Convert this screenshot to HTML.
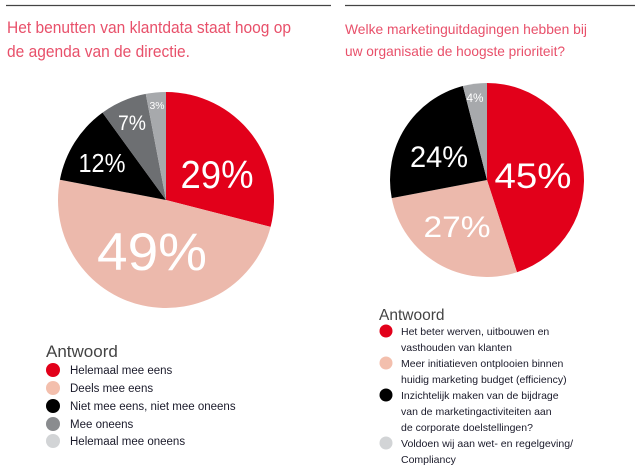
<!DOCTYPE html>
<html><head><meta charset="utf-8"><style>
html,body{margin:0;padding:0;background:#fff;width:643px;height:475px;overflow:hidden}
svg{display:block}
.t{font-family:"Liberation Sans",sans-serif}
</style></head><body>
<svg width="643" height="475" viewBox="0 0 643 475" class="t">
<line x1="6" y1="5.5" x2="331" y2="5.5" stroke="#444" stroke-width="1.3"/>
<line x1="345" y1="5.5" x2="635" y2="5.5" stroke="#444" stroke-width="1.3"/>
<g fill="#e8506a" font-size="16.5">
<text x="7" y="33" textLength="284" lengthAdjust="spacingAndGlyphs">Het benutten van klantdata staat hoog op</text>
<text x="7" y="57" textLength="183" lengthAdjust="spacingAndGlyphs">de agenda van de directie.</text>
</g>
<g fill="#e8506a" font-size="14">
<text x="345" y="34" textLength="242" lengthAdjust="spacingAndGlyphs">Welke marketinguitdagingen hebben bij</text>
<text x="345" y="56" textLength="220" lengthAdjust="spacingAndGlyphs">uw organisatie de hoogste prioriteit?</text>
</g>
<g id="lp"></g>
<g id="rp"></g>
<g fill="#fff" text-anchor="middle" lengthAdjust="spacingAndGlyphs">
<text x="217" y="188" font-size="39" textLength="73" lengthAdjust="spacingAndGlyphs">29%</text>
<text x="152" y="270" font-size="53" textLength="110" lengthAdjust="spacingAndGlyphs">49%</text>
<text x="102" y="172" font-size="26" textLength="47" lengthAdjust="spacingAndGlyphs">12%</text>
<text x="132" y="130" font-size="21" textLength="28" lengthAdjust="spacingAndGlyphs">7%</text>
<text x="157" y="109" font-size="10" textLength="15" lengthAdjust="spacingAndGlyphs">3%</text>
<text x="533" y="188" font-size="35" textLength="77" lengthAdjust="spacingAndGlyphs">45%</text>
<text x="457" y="237" font-size="30" textLength="67" lengthAdjust="spacingAndGlyphs">27%</text>
<text x="439" y="167" font-size="30" textLength="58" lengthAdjust="spacingAndGlyphs">24%</text>
<text x="475" y="102" font-size="12" textLength="17" lengthAdjust="spacingAndGlyphs">4%</text>
</g>
<text x="46" y="357" font-size="17" fill="#444">Antwoord</text>
<g font-size="11.5" fill="#1a1a2a">
<circle cx="53" cy="370" r="7" fill="#e2001a"/><text x="70" y="374">Helemaal mee eens</text>
<circle cx="53" cy="388" r="7" fill="#f3bfad"/><text x="70" y="392">Deels mee eens</text>
<circle cx="53" cy="406" r="7" fill="#000"/><text x="70" y="410">Niet mee eens, niet mee oneens</text>
<circle cx="53" cy="424" r="7" fill="#8a8c8f"/><text x="70" y="428">Mee oneens</text>
<circle cx="53" cy="441" r="7" fill="#d2d4d6"/><text x="70" y="445">Helemaal mee oneens</text>
</g>
<text x="379" y="320" font-size="15.5" fill="#444">Antwoord</text>
<g font-size="10.5" fill="#1a1a2a">
<circle cx="386" cy="331" r="6.5" fill="#e2001a"/>
<circle cx="386" cy="363" r="6.5" fill="#f3bfad"/>
<circle cx="386" cy="395" r="6.5" fill="#000"/>
<circle cx="386" cy="443" r="6.5" fill="#d2d4d6"/>
<text x="401" y="335">Het beter werven, uitbouwen en</text>
<text x="401" y="351">vasthouden van klanten</text>
<text x="401" y="367">Meer initiatieven ontplooien binnen</text>
<text x="401" y="383">huidig marketing budget (efficiency)</text>
<text x="401" y="399">Inzichtelijk maken van de bijdrage</text>
<text x="401" y="415">van de marketingactiviteiten aan</text>
<text x="401" y="431">de corporate doelstellingen?</text>
<text x="401" y="447" textLength="172" lengthAdjust="spacingAndGlyphs">Voldoen wij aan wet- en regelgeving/</text>
<text x="401" y="463">Compliancy</text>
</g>
</svg>
<script>
function pie(id,cx,cy,r,vals,cols){
 var g=document.getElementById(id),a=0,s='';
 var tot=vals.reduce(function(x,y){return x+y},0);
 vals.forEach(function(v,i){
  var a2=a+v/tot*2*Math.PI;
  var x1=cx+r*Math.sin(a),y1=cy-r*Math.cos(a),x2=cx+r*Math.sin(a2),y2=cy-r*Math.cos(a2);
  s+='<path d="M'+cx+','+cy+' L'+x1+','+y1+' A'+r+','+r+' 0 '+((a2-a)>Math.PI?1:0)+' 1 '+x2+','+y2+' Z" fill="'+cols[i]+'"/>';
  a=a2;});
 g.innerHTML=s;
}
pie('lp',166,200,108,[29,49,12,7,3],['#e2001a','#ecb9ac','#000','#6d6f72','#a7a9ac']);
pie('rp',487,180,97,[45,27,24,4],['#e2001a','#ecb9ac','#000','#a7a9ac']);
</script>
</body></html>
